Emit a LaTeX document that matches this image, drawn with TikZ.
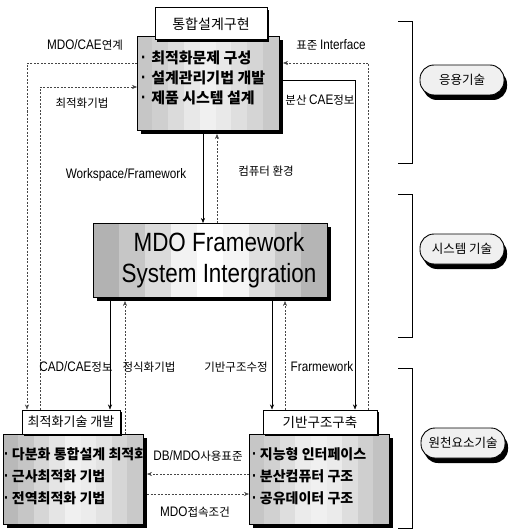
\documentclass[tikz,border=0pt]{standalone}
\usepackage{fontspec}
\setmainfont{Noto Sans CJK KR}
\newfontfamily\latf[FakeStretch=0.85,Scale=1.2]{Liberation Sans}
\newcommand\lat[1]{{\latf #1}}
\newcommand\bul{{\latf ·}\hspace{5pt}}
\newcommand\sbul{{\latf ·}\hspace{3pt}}
\usetikzlibrary{arrows.meta,calc,shadows}
% one vertical band of a box: node, from fraction, to fraction, grey percentage
\newcommand\bandseg[4]{%
  \fill[gray!#4] ($(#1.north west)!#2!(#1.north east)+(-0.3,0)$) rectangle ($(#1.south west)!#3!(#1.south east)+(0.3,0)$);}
% nine-band box with drop shadow and border
\newcommand\bandbox[2]{%
  \fill[black] ($(#1.south west)+(4,4)$) rectangle ($(#1.north east)+(4,4)$);
  \foreach \a/\b/\c [count=\k] in {#2} {}%
  \bandrow#1;#2;%
  \draw[line width=0.9pt] (#1.south west) rectangle (#1.north east);
}
\def\bandrow#1;#2,#3,#4,#5,#6,#7,#8,#9;{%
  \bandseg{#1}{0}{0.111}{#2}\bandseg{#1}{0.111}{0.222}{#3}%
  \bandseg{#1}{0.222}{0.333}{#4}\bandseg{#1}{0.333}{0.444}{#5}%
  \bandseg{#1}{0.444}{0.556}{#6}\bandseg{#1}{0.556}{0.667}{#7}%
  \bandseg{#1}{0.667}{0.778}{#8}\bandrowend{#1}#9;}
\def\bandrowend#1#2,#3;{%
  \bandseg{#1}{0.778}{0.889}{#2}\bandseg{#1}{0.889}{1}{#3}}
\begin{document}
\begin{tikzpicture}[x=1pt,y=-1pt,
  area/.style={inner sep=0pt,outer sep=0pt},
  titlebox/.style={draw=black,line width=1pt,fill=white,inner sep=0pt,
    drop shadow={shadow xshift=2pt,shadow yshift=-2pt,opacity=1,fill=black}},
  pill/.style={draw=black,line width=0.9pt,rounded corners=14pt,
    minimum width=84pt,minimum height=30pt,inner sep=0pt,fill=gray!12,
    font=\fontsize{12.5}{15}\selectfont,
    drop shadow={shadow xshift=3pt,shadow yshift=-5pt,opacity=1,fill=black}},
  lab/.style={font=\fontsize{11.5}{13}\selectfont,inner sep=0pt},
  item/.style={font=\fontsize{15}{17}\selectfont\bfseries,anchor=west,inner sep=0pt},
  bitem/.style={font=\fontsize{14}{17}\selectfont\bfseries,anchor=west,inner sep=0pt},
  sl/.style={draw=black,line width=0.5pt,-{Stealth[length=5pt,width=4pt]}},
  dl/.style={draw=gray!55!black,line width=0.5pt,dash pattern=on 2pt off 1.5pt,-{Stealth[length=5pt,width=4pt]}},
  brk/.style={draw=black,line width=0.9pt}]
\useasboundingbox (0,0) rectangle (510,532);

% top group
\node[area,minimum width=142pt,minimum height=94pt] (tb) at (208,83) {};
\bandbox{tb}{45,38,28,18,12,17,25,33,42,}
\node[titlebox,minimum width=112pt,minimum height=32pt,font=\fontsize{14}{16}\selectfont] (tt) at (211,24) {통합설계구현};
\node[item] (t1) at (141,58) {\bul 최적화문제 구성};
\node[item] (t2) at (141,78) {\bul 설계관리기법 개발};
\node[item] (t3) at (141,98) {\bul 제품 시스템 설계};

% MDO framework
\node[area,minimum width=234pt,minimum height=74pt] (mb) at (210,260) {};
\bandbox{mb}{60,45,28,10,0,8,25,42,58,}
\node[align=center,inner sep=0pt,font=\latf\fontsize{22}{31}\selectfont] (mbt) at ([xshift=9pt]mb.center) {MDO Framework\\System Intergration};

% bottom left
\node[area,minimum width=140pt,minimum height=90pt] (bl) at (73,479) {};
\bandbox{bl}{55,45,32,20,12,15,22,32,42,}
\node[titlebox,minimum width=98pt,minimum height=24pt,font=\fontsize{13}{15}\selectfont] (blt) at (71,422) {최적화기술 개발};
\node[bitem] (b1) at (4,454) {\sbul 다분화 통합설계 최적화};
\node[bitem] (b2) at (4,476) {\sbul 근사최적화 기법};
\node[bitem] (b3) at (4,498) {\sbul 전역최적화 기법};

% bottom right
\node[area,minimum width=140pt,minimum height=90pt] (br) at (319,479) {};
\bandbox{br}{45,36,26,16,12,16,26,38,48,}
\node[titlebox,minimum width=114pt,minimum height=24pt,font=\fontsize{13.5}{15}\selectfont] (brt) at (320,422) {기반구조구축};
\node[bitem] (r1) at (252,454) {\sbul 지능형 인터페이스};
\node[bitem] (r2) at (252,476) {\sbul 분산컴퓨터 구조};
\node[bitem] (r3) at (252,498) {\sbul 공유데이터 구조};

% pills
\node[pill] (p1) at (462,80) {응용기술};
\node[pill] (p2) at (462,249) {시스템 기술};
\node[pill] (p3) at (463,443) {원천요소기술};

% brackets
\draw[brk] (398,21) -| (412,163) -- (398,163);
\draw[brk] (398,194) -| (412,337) -- (398,337);
\draw[brk] (398,368) -| (412,528) -- (398,528);

% bend coordinates
\coordinate (xL1) at (27,63);
\coordinate (xL2) at (40,87);
\coordinate (xR1) at (355,80);
\coordinate (xR2) at (368,63);
\coordinate (xm1) at (203,0);
\coordinate (xm2) at (217,0);
\coordinate (xm3) at (110,0);
\coordinate (xm4) at (125,0);
\coordinate (xm5) at (272,0);
\coordinate (xm6) at (285,0);
\coordinate (yb1) at (0,474);
\coordinate (yb2) at (0,494);

% left connectors
\draw[dl] (tb.west |- xL1) -| (xL1 |- blt.north);
\draw[dl] (xL2 |- blt.north) |- (tb.west |- xL2);
% right connectors
\draw[sl] ($(tb.east |- xR1)+(4,0)$) -| (xR1 |- brt.north);
\draw[dl] (xR2 |- brt.north) |- ($(tb.east |- xR2)+(4,0)$);
% middle connectors
\draw[sl] ($(tb.south -| xm1)+(0,4)$) -- (mb.north -| xm1);
\draw[dl] (mb.north -| xm2) -- ($(tb.south -| xm2)+(0,4)$);
\draw[sl] ($(mb.south -| xm3)+(0,4)$) -- (blt.north -| xm3);
\draw[dl] (bl.north -| xm4) -- ($(mb.south -| xm4)+(0,4)$);
\draw[sl] ($(mb.south -| xm5)+(0,4)$) -- (brt.north -| xm5);
\draw[dl] (brt.north -| xm6) -- ($(mb.south -| xm6)+(0,4)$);
% bottom connectors
\draw[dl] (br.west |- yb1) -- ($(bl.east |- yb1)+(4,0)$);
\draw[dl] ($(bl.east |- yb2)+(4,0)$) -- (br.west |- yb2);

% labels
\node[lab] (l1) at (85,45) {\lat{MDO/CAE}연계};
\node[lab] (l2) at (82,103) {최적화기법};
\node[lab] (l3) at (331,45) {표준 \lat{Interface}};
\node[lab] (l4) at (320,100) {분산 \lat{CAE}정보};
\node[lab] (l5) at (126,175) {\lat{Workspace/Framework}};
\node[lab] (l6) at (266,171) {컴퓨터 환경};
\node[lab] (l7) at (76,367) {\lat{CAD/CAE}정보};
\node[lab] (l8) at (149,367) {정식화기법};
\node[lab] (l9) at (236,367) {기반구조수정};
\node[lab] (l10) at (322,367) {\lat{Frarmework}};
\node[lab] (l11) at (198,456) {\lat{DB/MDO}사용표준};
\node[lab] (l12) at (195,512) {\lat{MDO}접속조건};
\end{tikzpicture}
\end{document}
